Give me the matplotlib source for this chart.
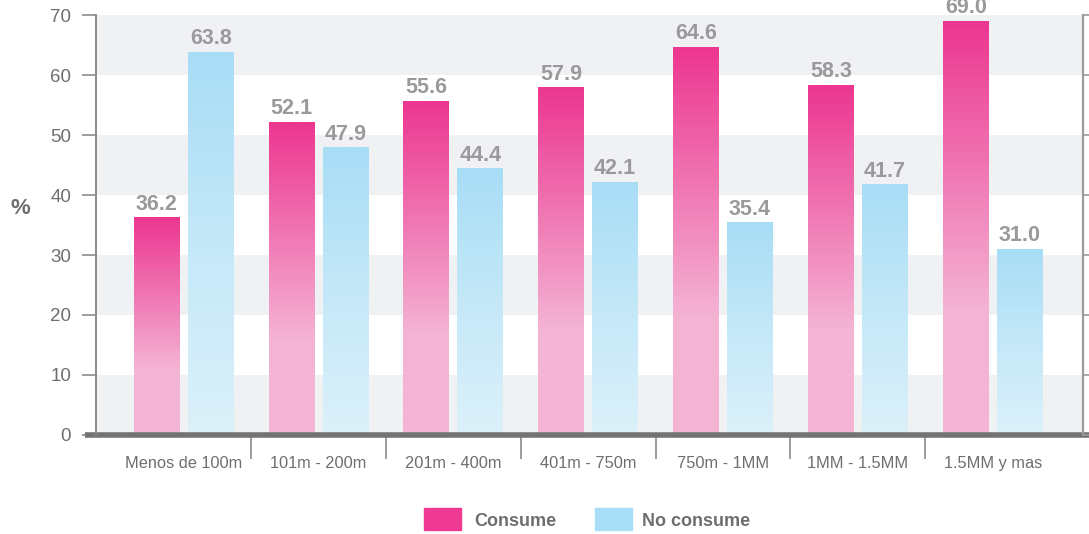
import numpy as np
import matplotlib.pyplot as plt
from matplotlib.colors import LinearSegmentedColormap
from matplotlib.patches import Rectangle

plt.rcParams['font.family'] = ['Liberation Sans', 'DejaVu Sans']

# Data
categories = ['Menos de 100m', '101m - 200m', '201m - 400m', '401m - 750m',
              '750m - 1MM', '1MM - 1.5MM', '1.5MM y mas']
consume = [36.2, 52.1, 55.6, 57.9, 64.6, 58.3, 69.0]
no_consume = [63.8, 47.9, 44.4, 42.1, 35.4, 41.7, 31.0]
series_names = ['Consume', 'No consume']

pink_cmap = LinearSegmentedColormap.from_list(
    'pink', [(0, '#f4b4d4'), (0.3, '#f4b4d4'), (1, '#ec3690')])
blue_cmap = LinearSegmentedColormap.from_list(
    'blue', [(0, '#dcf1fa'), (0.5, '#c4e8f8'), (1, '#a8ddf6')])

fig = plt.figure(figsize=(10.89, 5.34), dpi=100)
ax = fig.add_axes([0.0882, 0.1854, 0.9063, 0.7865])

# alternating background bands
for y0 in range(0, 70, 20):
    ax.axhspan(y0, y0 + 10, color='#f0f1f3', zorder=0, lw=0)

x = np.arange(len(categories))
offset = 0.2
width = 0.34
grad = np.linspace(0, 1, 256).reshape(-1, 1)

def gradient_bars(xs, vals, cmap):
    for xc, v in zip(xs, vals):
        ax.imshow(grad, cmap=cmap, origin='lower', aspect='auto',
                  extent=[xc - width / 2, xc + width / 2, 0, v], zorder=2,
                  interpolation='bilinear')
        ax.text(xc, v + 0.5, f'{v:.1f}', ha='center', va='bottom',
                fontsize=15.5, fontweight='bold', color='#9a9a9c', zorder=3)

gradient_bars(x - offset, consume, pink_cmap)
gradient_bars(x + offset, no_consume, blue_cmap)

ax.set_xlim(-0.65, 6.67)
ax.set_ylim(0, 70)

# y axis
ax.set_yticks(range(0, 71, 10))
ax.tick_params(axis='y', direction='out', length=10, width=1.2, colors='#8a8a8a',
               labelcolor='#6d6e70', labelsize=13.5, pad=8)
fig.text(0.019, 0.61, '%', fontsize=16, fontweight='bold', color='#6d6e70',
         ha='center', va='center')

# right axis with ticks only
ax2 = ax.twinx()
ax2.set_ylim(0, 70)
ax2.set_yticks(range(0, 71, 10))
ax2.tick_params(axis='y', direction='out', length=8, width=1.2, colors='#9a9a9a',
                labelright=False)

for a in (ax, ax2):
    a.spines['top'].set_visible(False)
    a.spines['bottom'].set_visible(False)
    a.spines['left'].set_color('#8a8a8a')
    a.spines['right'].set_color('#9a9a9a')
    a.spines['left'].set_linewidth(1.2)
    a.spines['right'].set_linewidth(1.5)

# x axis: labels at centers, separator ticks at boundaries
ax.set_xticks(x)
ax.set_xticklabels(categories)
ax.tick_params(axis='x', length=0, pad=15, labelsize=11.8, labelcolor='#6d6e70')
ax.set_xticks(x[:-1] + 0.5, minor=True)
ax.tick_params(axis='x', which='minor', direction='out', length=17, width=1.2,
               color='#8a8a8a')

# thick baseline
ax.plot([-0.011, 1.01], [0, 0], transform=ax.transAxes, color='#737373', lw=4,
        clip_on=False, zorder=5, solid_capstyle='butt')

# legend drawn in figure pixels
W, H = 1089, 534
legend_items = [(424, '#ee3a93', 474), (595, '#a8def7', 642)]
for (sx, col, tx), name in zip(legend_items, series_names):
    fig.patches.append(Rectangle((sx / W, 1 - 530 / H), 37 / W, 22 / H,
                                 color=col, transform=fig.transFigure))
    fig.text(tx / W, 1 - 522 / H, name, fontsize=13, fontweight='bold',
             color='#6d6e70', va='center', ha='left')

plt.savefig('out.png', dpi=100)
